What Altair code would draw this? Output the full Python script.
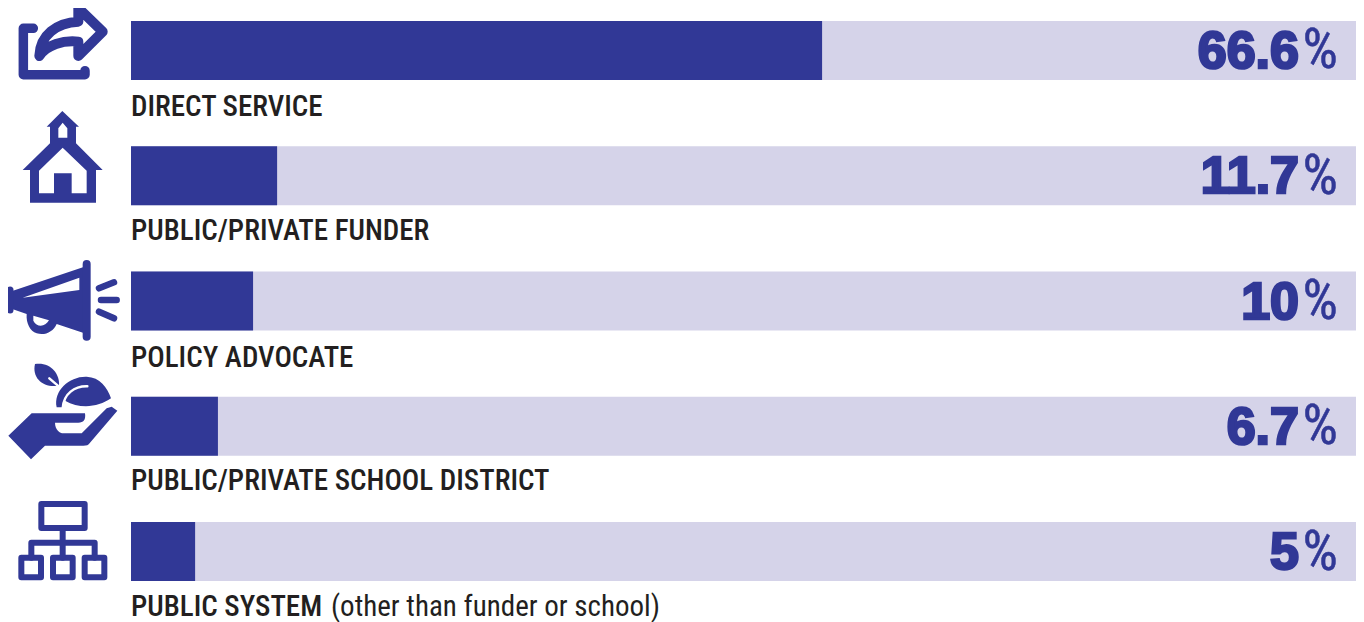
import altair as alt
import pandas as pd

categories = ["DIRECT SERVICE", "PUBLIC/PRIVATE FUNDER", "POLICY ADVOCATE",
              "PUBLIC/PRIVATE SCHOOL DISTRICT", "PUBLIC SYSTEM"]
notes = ["", "", "", "", "(other than funder or school)"]
value_labels = ["66.6", "11.7", "10", "6.7", "5"]
bar_lengths = [56.05, 11.85, 9.9, 7.05, 5.2]
track = [100, 100, 100, 100, 100]
label_offsets = [57, 55, 57, 55, 55]

DARK = "#313896"
LIGHT = "#d5d3e9"
INK = "#231f20"

# Icon glyphs, in units of a third of a pixel; (path, filled colour or None, stroke width)
icon_1 = [
    ("M100,85 L70,85 L70,224 L255,224 L255,212", None, 9.5),
    ("M118,168 C120,105 170,68 235,65 L235,24 L308,95 L235,168 L235,125 C190,120 140,135 118,168 Z", None, 10),
]
icon_2 = [
    ("M187,333 L237,380 L228,380 L228,430 L308,510 L288,510 L288,608 L90,608 L90,510 L68,510 L150,430 L150,380 L140,380 Z "
     "M188,443 L117,512 L117,580 L162,580 L162,520 L215,520 L215,580 L260,580 L260,512 Z "
     "M188,368 L175,385 L175,413 L202,413 L202,385 Z", DARK, 0),
]
icon_3 = [
    ("M30,125 L260,48 L260,252 L170,222 C160,245 135,258 110,250 C90,243 78,220 80,192 L30,175 Z "
     "M68,143 L238,120 L238,83 Z "
     "M100,197 L100,212 C110,232 135,232 147,211 Z", DARK, 0),
    ("M30,120 L30,180", None, 7),
    ("M260,42 L260,260", None, 8),
    ("M297,115 L342,97 M303,150 L350,150 M297,185 L342,205", None, 6.5),
]
icon_4 = [
    ("M105,342 C150,335 180,370 177,407 C130,415 95,385 105,342 Z", DARK, 0),
    ("M170,472 C160,420 210,378 260,380 C300,382 322,412 333,445 C295,472 240,478 195,452 L188,472 Z", DARK, 0),
    ("M95,490 L255,490 C258,510 250,518 235,518 L165,518 C165,540 180,550 190,550 L245,550 L320,475 "
     "L335,470 L352,482 L270,578 C265,585 260,587 250,587 L135,587 L93,628 L25,557 Z", DARK, 0),
]
icon_4_cuts = ["M148,385 L177,410", "M262,409 C225,408 190,430 188,476"]
icon_5 = [
    ("M124,42 L254,42 L254,114 L124,114 Z", None, 6),
    ("M64,203 L123,203 L123,262 L64,262 Z", None, 6),
    ("M159,203 L218,203 L218,262 L159,262 Z", None, 6),
    ("M254,203 L313,203 L313,262 L254,262 Z", None, 6),
    ("M188,114 L188,203 M94,203 L94,158 L284,158 L284,203", None, 6),
]
icon_crop_tops = [0, 0, 250, 250, 490]
icons = [icon_1, icon_2, icon_3, icon_4, icon_5]

df = pd.DataFrame({"cat": categories, "note": notes, "label": value_labels,
                   "bar": bar_lengths, "track": track, "start": [0] * 5, "pct": ["%"] * 5})

W, H = 1348, 614
x_scale = alt.Scale(domain=[0, 100], range=[123, 1356])
y_scale = alt.Scale(domain=categories, range=[13, 573], paddingInner=0.529, paddingOuter=0)
Y = alt.Y("cat:N", scale=y_scale, axis=None, sort=None)
X0 = alt.X("start:Q", scale=x_scale, axis=None)
base = alt.Chart(df)

layers = [
    base.mark_bar(color=LIGHT, orient="horizontal", clip=True).encode(x=X0, x2="track:Q", y=Y),
    base.mark_bar(color=DARK, orient="horizontal").encode(x=X0, x2="bar:Q", y=Y),
    base.mark_text(font="Liberation Sans", fontWeight="bold", fontSize=52, align="right", baseline="middle",
                   color=DARK, stroke=DARK, strokeWidth=2.6, dy=1.5).encode(x=alt.value(1291), y=Y, text="label:N"),
    base.mark_text(font="Roboto Condensed", fontSize=56, align="right", baseline="middle",
                   color=DARK, stroke=DARK, strokeWidth=0.5, dy=1).encode(x=alt.value(1330), y=Y, text="pct:N"),
]
for i, off in enumerate(label_offsets):
    row = base.transform_filter(alt.datum.cat == categories[i])
    layers.append(row.mark_text(font="Roboto Condensed", fontWeight=500, fontSize=29, align="left", baseline="middle",
                                color=INK, dy=off).encode(x=alt.value(123), y=Y, text="cat:N"))
    if notes[i]:
        layers.append(row.mark_text(font="Roboto Condensed", fontSize=29, align="left", baseline="middle",
                                    color=INK, dy=off).encode(x=alt.value(323), y=Y, text="note:N"))

one = pd.DataFrame({"k": [0]})
for glyphs, top in zip(icons, icon_crop_tops):
    for path, fill, sw in glyphs:
        if fill:
            mark = alt.Chart(one).mark_point(shape=path, size=4 / 9, filled=True, fill=fill, opacity=1, strokeWidth=0)
        else:
            mark = alt.Chart(one).mark_point(shape=path, size=4 / 9, filled=False, stroke=DARK, strokeWidth=sw,
                                             strokeCap="round", strokeJoin="round", opacity=1)
        layers.append(mark.encode(x=alt.value(-8), y=alt.value(top - 8)))
for path in icon_4_cuts:
    layers.append(alt.Chart(one).mark_point(shape=path, size=4 / 9, filled=False, stroke="white", strokeWidth=2.5,
                                            strokeCap="round", opacity=1)
                  .encode(x=alt.value(-8), y=alt.value(242)))

chart = alt.layer(*layers).properties(
    width=W, height=H, padding=0, autosize=alt.AutoSizeParams(type="none")
).configure_view(stroke=None)

chart.save("out.html", embed_options={"renderer": "svg", "actions": False})
